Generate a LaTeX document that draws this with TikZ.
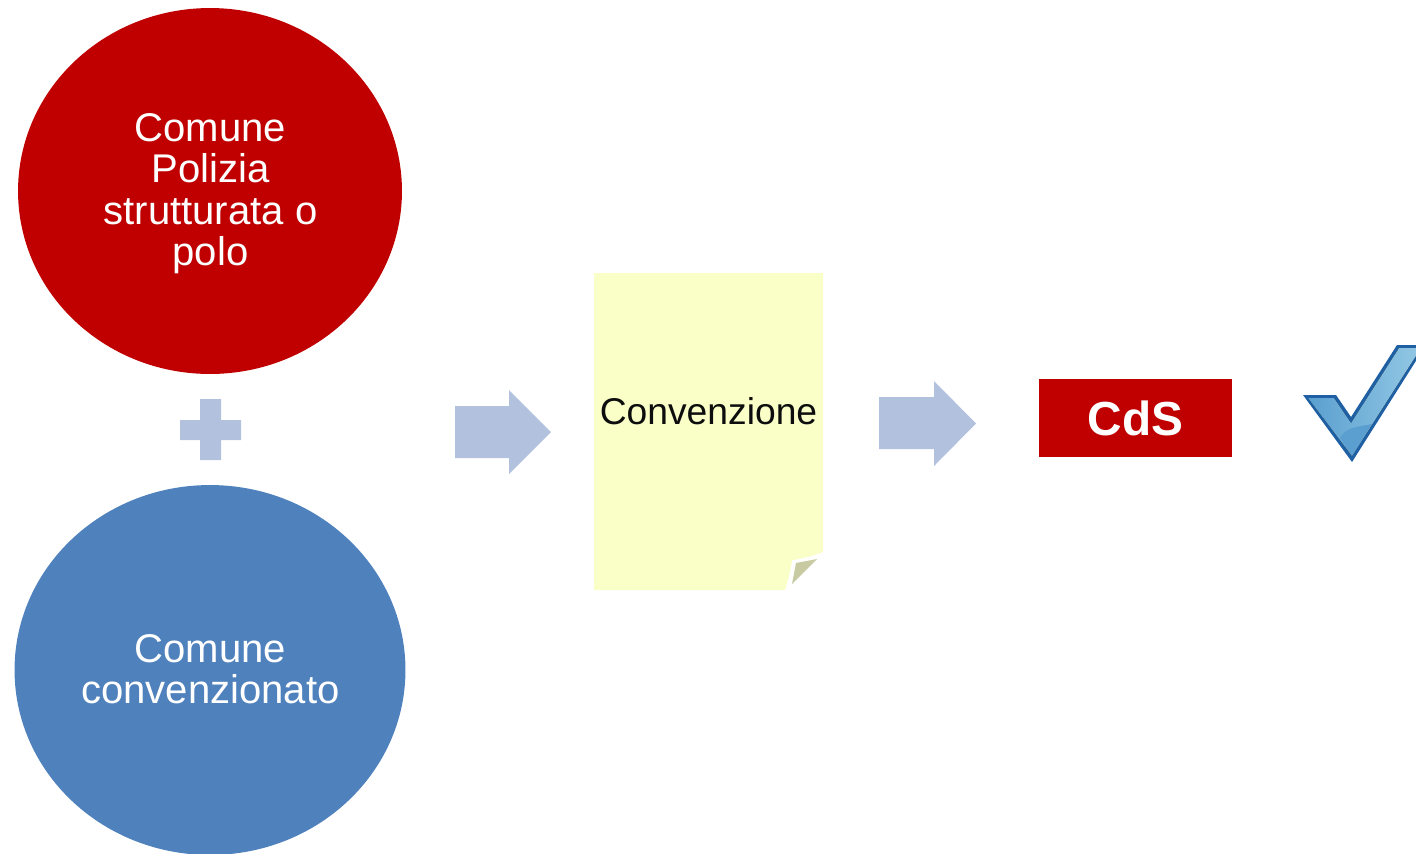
\documentclass[tikz,border=0pt]{standalone}
\usepackage{fontspec}
\setmainfont{Liberation Sans}
\usetikzlibrary{shapes.geometric}
\definecolor{polored}{HTML}{C00000}
\definecolor{comuneblue}{HTML}{4F81BD}
\definecolor{arrowblue}{HTML}{B2C1DD}
\definecolor{noteyellow}{HTML}{FAFFC8}
\definecolor{foldolive}{HTML}{C8CBA2}
\definecolor{checkdark}{HTML}{1F5FA3}
\definecolor{checklight}{HTML}{93C8E4}
\definecolor{checkmid}{HTML}{5A9FD0}
\tikzset{
    bigcircle/.style={ellipse, inner sep=0pt},
    bigtext/.style={text=white, align=center, font=\fontsize{22.8}{23.6}\selectfont},
    shapefill/.style={fill=arrowblue, draw=none}
}
\begin{document}
\begin{tikzpicture}[x=0.02cm, y=-0.02cm]
    \useasboundingbox (0,0) rectangle (1416,853);
    \clip (0,0) rectangle (1416,853);
    \node[bigcircle, fill=polored, minimum width=7.68cm, minimum height=7.32cm] (polo) at (210,191) {};
    \node[bigtext] (polotext) at (210.5,193.5) {Comune\\Polizia\\strutturata o\\polo};
    \node[bigcircle, fill=comuneblue, minimum width=7.82cm, minimum height=7.4cm] (convenzionato) at (210,670) {};
    \node[bigtext] (convenzionatotext) at (210.5,669) {Comune\\convenzionato};
    \fill[shapefill] (200,399)--(221,399)--(221,420)--(241,420)--(241,440)--(221,440)--(221,460)--(200,460)--(200,440)--(180,440)--(180,420)--(200,420)--cycle;
    \fill[shapefill] (455,406)--(509,406)--(509,390)--(551,432)--(509,474)--(509,458)--(455,458)--cycle;
    \fill[shapefill] (879,397)--(934,397)--(934,381)--(976,423.5)--(934,466)--(934,449)--(879,449)--cycle;
    \fill[noteyellow] (594,273)--(823,273)--(823,552) .. controls (810,557) and (800,559) .. (792,560) .. controls (791,570) and (788,580) .. (785,590)--(594,590)--cycle;
    \fill[foldolive] (796,563)--(817,559)--(792,584)--cycle;
    \node[font=\fontsize{21.2}{23.6}\selectfont, text=black!95] (convenzione) at (708.5,411) {Convenzione};
    \node[fill=polored, text=white, inner sep=0pt, minimum width=3.86cm, minimum height=1.56cm, font=\fontsize{27.2}{30}\selectfont\bfseries] (cds) at (1135.5,418) {CdS};
    \fill[checkdark] (1303,395)--(1336,395)--(1351,417)--(1397,345)--(1426,345)--(1352,462)--cycle;
    \fill[left color=checkmid, right color=checklight] (1308,398)--(1334,398)--(1351,423)--(1399,348)--(1421,348)--(1352,456)--cycle;
    \fill[checkmid] (1340,438) .. controls (1345,428) and (1355,427) .. (1372,424)--(1352,456)--cycle;
\end{tikzpicture}
\end{document}
